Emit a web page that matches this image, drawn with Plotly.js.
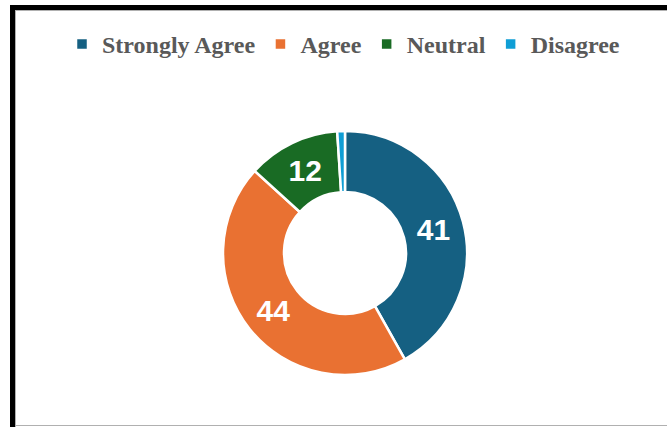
<!DOCTYPE html>
<html>
<head>
<meta charset="utf-8">
<script src="https://cdn.plot.ly/plotly-3.0.1.min.js"></script>
<style>html,body{margin:0;padding:0;background:#fff;}#chart{width:667px;height:427px;}</style>
</head>
<body>
<div id="chart"></div>
<script>
const categories = ["Strongly Agree", "Agree", "Neutral", "Disagree"];
const values = [41, 44, 12, 1];
const labelTemplates = ["%{value}", "%{value}", "%{value}", ""];
const colors = ["#156082", "#E97132", "#196B24", "#0F9ED5"];

const W = 667, H = 427;
const cx = 345, cy = 253, R = 122;

const trace = {
  type: "pie",
  labels: categories,
  values: values,
  hole: 0.5,
  sort: false,
  direction: "clockwise",
  rotation: 0,
  marker: { colors: colors, line: { color: "#ffffff", width: 2.5 } },
  texttemplate: labelTemplates,
  textposition: "inside",
  insidetextorientation: "horizontal",
  textfont: { family: "Liberation Sans, Arial, sans-serif", size: 30, color: "#ffffff", weight: "bold" },
  domain: { x: [(cx - R) / W, (cx + R) / W], y: [(H - cy - R) / H, (H - cy + R) / H] },
  hoverinfo: "label+value"
};

const px = v => v / W, py = v => 1 - v / H;
const layout = {
  width: W, height: H,
  margin: { l: 0, r: 0, t: 0, b: 0 },
  paper_bgcolor: "#ffffff",
  showlegend: true,
  legend: {
    orientation: "h", x: 0.515, xanchor: "center", y: py(22), yanchor: "top",
    font: { family: "Liberation Serif, Times New Roman, serif", size: 24, color: "#595959", weight: "bold" },
    traceorder: "normal", itemclick: false
  },
  shapes: [
    { type: "rect", xref: "paper", yref: "paper", x0: px(10), x1: 1, y0: py(5), y1: py(10), fillcolor: "#000", line: { width: 0 } },
    { type: "rect", xref: "paper", yref: "paper", x0: px(10), x1: px(15), y0: 0, y1: py(5), fillcolor: "#000", line: { width: 0 } },
    { type: "line", xref: "paper", yref: "paper", x0: px(15), x1: 1, y0: py(10.5), y1: py(10.5), line: { color: "#b0b0b0", width: 1 } },
    { type: "line", xref: "paper", yref: "paper", x0: px(15.5), x1: px(15.5), y0: 0, y1: py(10), line: { color: "#b0b0b0", width: 1 } },
    { type: "line", xref: "paper", yref: "paper", x0: px(15), x1: 1, y0: py(425.5), y1: py(425.5), line: { color: "#b0b0b0", width: 1 } }
  ]
};

Plotly.newPlot("chart", [trace], layout, { displayModeBar: false, staticPlot: true });
</script>
</body>
</html>
